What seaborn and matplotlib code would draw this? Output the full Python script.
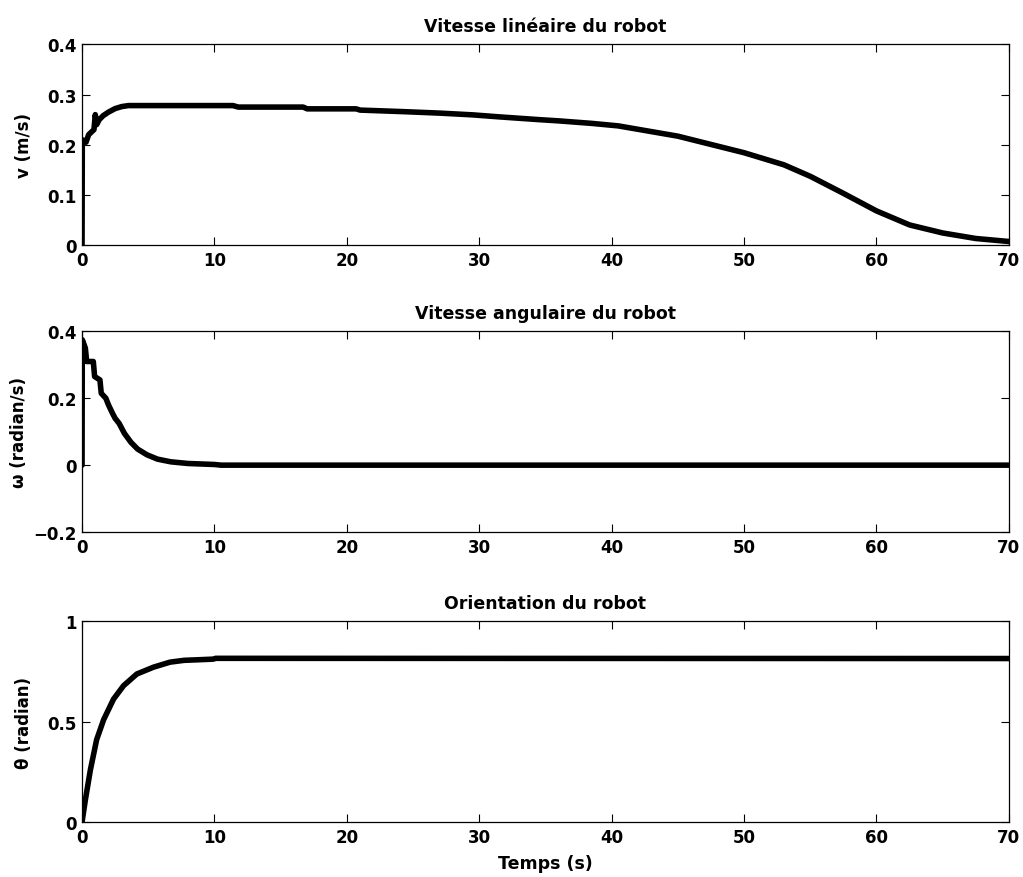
import numpy as np
import pandas as pd
import matplotlib
matplotlib.use("Agg")
import matplotlib.pyplot as plt
from matplotlib.ticker import FuncFormatter
import seaborn as sns

# Vitesse linéaire v (m/s)
t_v = [0, 0.02, 0.3, 0.5, 0.9, 1.0, 1.1, 1.3, 1.6, 2.0, 2.5, 3.0, 3.5,
       11.4, 11.8, 16.7, 17.0, 20.7, 21.0, 24.2, 27.0, 29.5, 31.5, 34.5,
       36.0, 38.5, 40.5, 45.0, 50.0, 53.0, 55.0, 57.5, 60.0, 62.5, 65.0,
       67.5, 70.0]
v = [0, 0.21, 0.205, 0.22, 0.23, 0.26, 0.24, 0.25, 0.258, 0.265, 0.272,
     0.276, 0.278, 0.278, 0.275, 0.275, 0.2715, 0.2715, 0.269, 0.266,
     0.263, 0.2595, 0.2555, 0.250, 0.2475, 0.2425, 0.2375, 0.217, 0.184,
     0.16, 0.137, 0.103, 0.068, 0.04, 0.024, 0.013, 0.007]

# Vitesse angulaire omega (radian/s)
t_w = [0, 0.02, 0.25, 0.35, 0.85, 0.95, 1.35, 1.45, 1.8, 2.0, 2.3, 2.5,
       2.8, 3.2, 3.7, 4.2, 4.9, 5.7, 6.7, 8.0, 10.0, 10.5, 70.0]
w = [0, 0.375, 0.35, 0.31, 0.31, 0.265, 0.255, 0.215, 0.2, 0.18, 0.155,
     0.14, 0.125, 0.095, 0.068, 0.048, 0.031, 0.018, 0.010, 0.005, 0.002,
     0.0, 0.0]

# Orientation theta (radian)
t_th = [0, 0.25, 0.63, 1.1, 1.63, 2.38, 3.14, 4.14, 5.4, 6.65, 7.7, 9.2,
        9.9, 10.1, 70.0]
theta = [0, 0.11, 0.26, 0.41, 0.51, 0.613, 0.68, 0.738, 0.772, 0.797,
         0.806, 0.81, 0.812, 0.816, 0.815]

titles = ["Vitesse linéaire du robot", "Vitesse angulaire du robot",
          "Orientation du robot"]
ylabels = ["v (m/s)", "ω (radian/s)", "θ (radian)"]
x_ticks = [0, 10, 20, 30, 40, 50, 60, 70]

sns.set_style("ticks")
plt.rcParams["font.family"] = ["DejaVu Sans"]
plt.rcParams["font.weight"] = "bold"
plt.rcParams["font.size"] = 12
plt.rcParams["text.color"] = "black"
plt.rcParams["axes.labelcolor"] = "black"
plt.rcParams["xtick.color"] = "black"
plt.rcParams["ytick.color"] = "black"

fig = plt.figure(figsize=(10.23, 8.78), dpi=100)
left, width = 0.0802, 0.906
bottoms = [0.7198, 0.3929, 0.0626]
height = 0.2285
label_x = [-0.0529, -0.0583, -0.0529]

series = [
    (pd.DataFrame({"t": t_v, "y": v}), (0, 0.4), np.arange(0, 0.41, 0.1)),
    (pd.DataFrame({"t": t_w, "y": w}), (-0.2, 0.4), [-0.2, 0, 0.2, 0.4]),
    (pd.DataFrame({"t": t_th, "y": theta}), (0, 1), [0, 0.5, 1]),
]

fmt = FuncFormatter(lambda x, pos: "{:g}".format(round(x, 3)).replace("-", "−"))

for i, (df, ylim, yticks) in enumerate(series):
    ax = fig.add_axes([left, bottoms[i], width, height])
    sns.lineplot(data=df, x="t", y="y", ax=ax, color="black",
                 linewidth=4, estimator=None, sort=False)
    ax.set_xlim(0, 70)
    ax.set_ylim(*ylim)
    ax.set_xticks(x_ticks)
    ax.set_yticks(yticks)
    ax.yaxis.set_major_formatter(fmt)
    ax.tick_params(direction="in", top=True, right=True, length=6,
                   width=0.8, labelsize=12, pad=4)
    for lab in ax.get_xticklabels() + ax.get_yticklabels():
        lab.set_fontweight("bold")
    for sp in ax.spines.values():
        sp.set_linewidth(0.9)
        sp.set_color("black")
    ax.set_title(titles[i], fontsize=12.5, fontweight="bold", pad=10)
    ax.set_ylabel(ylabels[i], fontsize=12, fontweight="bold")
    ax.yaxis.set_label_coords(label_x[i], 0.5)
    if i == 2:
        ax.set_xlabel("Temps (s)", fontsize=12.5, fontweight="bold", labelpad=6)
    else:
        ax.set_xlabel("")

fig.savefig("out.png", dpi=100)
